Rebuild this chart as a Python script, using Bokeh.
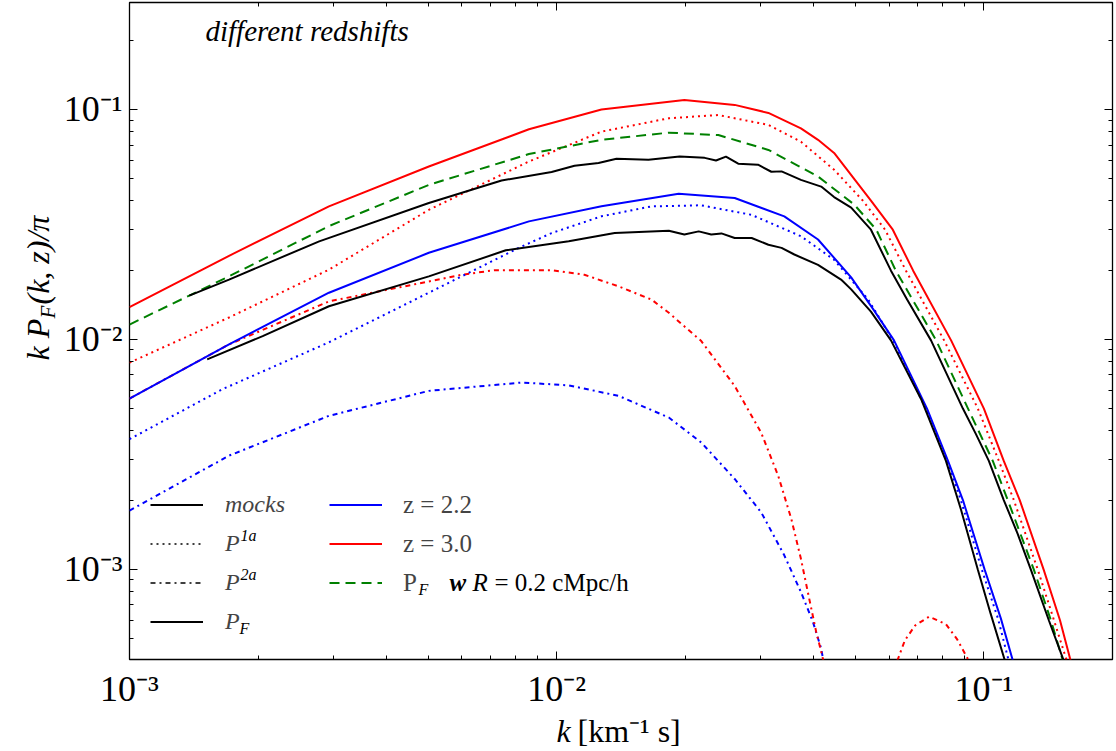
import math
from bokeh.plotting import figure
from bokeh.layouts import column, row
from bokeh.models import (LogAxis, FixedTicker, Label, Legend, LegendItem,
                          CustomJSTickFormatter, Range1d)
from bokeh.embed import file_html
from bokeh.resources import INLINE

# ---------------- data ----------------
# z = 3.0, full P_F (red solid)
k_pf_z30 = [0.001, 0.00171, 0.00293, 0.00502, 0.00861, 0.01273, 0.0199, 0.0261, 0.0313,
            0.0373, 0.0409, 0.0446, 0.0544, 0.0612, 0.0683, 0.0838, 0.1000, 0.1113, 0.1213,
            0.1380, 0.1507, 0.1596]
v_pf_z30 = [0.0138, 0.0231, 0.0379, 0.0565, 0.0820, 0.100, 0.110, 0.1047, 0.0966,
            0.0828, 0.0738, 0.0647, 0.0401, 0.0300, 0.0199, 0.00990, 0.005, 0.00296, 0.002,
            0.000996, 0.0006, 0.0004]

# z = 3.0, P^{1a} (red dotted)
k_p1a_z30 = [0.001, 0.00171, 0.00293, 0.00502, 0.00861, 0.01273, 0.0183, 0.0239, 0.0313,
             0.0373, 0.0446, 0.0521, 0.0587, 0.0657, 0.0807, 0.0968, 0.1084, 0.1175, 0.1337,
             0.1459, 0.1563]
v_p1a_z30 = [0.00792, 0.01245, 0.0201, 0.0366, 0.0594, 0.0801, 0.0916, 0.0946, 0.0857,
             0.0724, 0.0547, 0.0401, 0.0300, 0.0199, 0.00990, 0.005, 0.00296, 0.002, 0.000996,
             0.0006, 0.0004]

# z = 3.0, P^{2a} (red dash-dot), two positive lobes
k_p2a_z30_a = [0.001, 0.00171, 0.00293, 0.00502, 0.0060, 0.00716, 0.00861, 0.00973, 0.01161,
               0.01396, 0.01667, 0.0183, 0.0218, 0.0261, 0.0301, 0.0330, 0.0354, 0.0373,
               0.0390, 0.0405, 0.0416, 0.0421]
v_p2a_z30_a = [0.00553, 0.00951, 0.01463, 0.01786, 0.0191, 0.0200, 0.0200, 0.0200, 0.0191,
               0.0170, 0.0149, 0.01305, 0.00983, 0.00627, 0.00393, 0.00255, 0.00166, 0.00111,
               0.000745, 0.000534, 0.000439, 0.0004]
k_p2a_z30_b = [0.0627, 0.0653, 0.0690, 0.0744, 0.0815, 0.0865, 0.0922]
v_p2a_z30_b = [0.0004, 0.000490, 0.000569, 0.000622, 0.000577, 0.000497, 0.0004]

# z = 3.0, P_F with R = 0.2 cMpc/h (green dashed)
k_pfR_z30 = [0.001, 0.00171, 0.00293, 0.00502, 0.00861, 0.01273, 0.0183, 0.0239, 0.0313,
             0.0409, 0.0497, 0.0560, 0.0622, 0.0773, 0.0918, 0.1049, 0.1137, 0.1309, 0.1435,
             0.1531]
v_pfR_z30 = [0.0116, 0.0188, 0.0311, 0.0470, 0.0640, 0.0738, 0.0793, 0.0774, 0.0667,
             0.0511, 0.0386, 0.0300, 0.0199, 0.00990, 0.005, 0.00296, 0.002, 0.000996, 0.0006,
             0.0004]

# z = 3.0 mocks (black solid)
k_mock_z30 = [0.00138, 0.00171, 0.00278, 0.00502, 0.00743, 0.00973, 0.01101, 0.01253, 0.0138,
              0.0164, 0.0194, 0.0222, 0.0236, 0.0249, 0.0266, 0.0296, 0.0318, 0.0336, 0.0373,
              0.0416, 0.0446, 0.0489, 0.0544, 0.0606, 0.0661, 0.0752, 0.0893, 0.0958, 0.1027,
              0.1113, 0.1199, 0.1288, 0.1419, 0.1538]
v_mock_z30 = [0.0155, 0.0182, 0.0267, 0.0392, 0.0491, 0.0535, 0.0569, 0.0585, 0.0610,
              0.0604, 0.0624, 0.0616, 0.0600, 0.0624, 0.0581, 0.0575, 0.0536, 0.0538, 0.0494,
              0.0462, 0.0416, 0.0374, 0.0300, 0.0199, 0.0149, 0.00990, 0.005, 0.00387, 0.00296,
              0.002, 0.00143, 0.000996, 0.0006, 0.0004]

# z = 2.2, full P_F (blue solid)
k_pf_z22 = [0.001, 0.00171, 0.00293, 0.00502, 0.00861, 0.01273, 0.0193, 0.0261, 0.0341,
            0.0409, 0.0489, 0.0551, 0.0616, 0.0736, 0.0824, 0.0893, 0.1004, 0.1096, 0.1169]
v_pf_z22 = [0.00553, 0.00951, 0.01596, 0.0238, 0.0326, 0.0379, 0.0430, 0.0412, 0.0343,
            0.0272, 0.0186, 0.0135, 0.00990, 0.005, 0.00296, 0.002, 0.000996, 0.000610, 0.0004]

# z = 2.2, P^{1a} (blue dotted)
k_p1a_z22 = [0.001, 0.00165, 0.00293, 0.00502, 0.00815, 0.00973, 0.01273, 0.01667, 0.0218,
             0.0286, 0.0373, 0.0446, 0.0536, 0.0613, 0.0731, 0.0820, 0.0883, 0.0989, 0.1079,
             0.1143]
v_p1a_z22 = [0.00368, 0.00607, 0.00971, 0.01596, 0.0250, 0.0290, 0.0343, 0.0379, 0.0383,
             0.0348, 0.0281, 0.0222, 0.0149, 0.00990, 0.005, 0.00296, 0.002, 0.000996, 0.000610,
             0.0004]

# z = 2.2, P^{2a} (blue dash-dot)
k_p2a_z22 = [0.001, 0.00171, 0.00293, 0.00502, 0.00828, 0.01067, 0.01396, 0.0183, 0.0218,
             0.0261, 0.0301, 0.0341, 0.0373, 0.0398, 0.0416, 0.0421]
v_p2a_z22 = [0.00180, 0.00312, 0.00465, 0.00597, 0.00649, 0.00631, 0.00568, 0.00457, 0.00356,
             0.00247, 0.00177, 0.00115, 0.000796, 0.000590, 0.000452, 0.0004]

# z = 2.2 mocks (black solid)
k_mock_z22 = [0.00152, 0.00205, 0.00293, 0.00502, 0.0076, 0.01067, 0.01367, 0.0183, 0.0199,
              0.0215, 0.0230, 0.0243, 0.0261, 0.0286, 0.0313, 0.0336, 0.0360, 0.0409, 0.0463,
              0.0489, 0.0544, 0.0606, 0.0713, 0.0815, 0.0883, 0.0968, 0.1037, 0.1120]
v_mock_z22 = [0.00819, 0.01033, 0.01393, 0.0188, 0.0244, 0.0267, 0.0290, 0.0297, 0.0286,
              0.0295, 0.0286, 0.0289, 0.0276, 0.0276, 0.0258, 0.0250, 0.0234, 0.0211, 0.0182,
              0.0165, 0.0132, 0.00990, 0.00549, 0.00296, 0.00183, 0.000996, 0.000641, 0.0004]

# axes
x_lim = [1e-3, 0.2]
y_lim = [4.05e-4, 0.292]
x_major = [1e-3, 1e-2, 1e-1]
y_major = [1e-3, 1e-2, 1e-1]
x_minor = [m * 10.0 ** e for e in (-3, -2, -1) for m in range(2, 10)]
y_minor = [m * 10.0 ** e for e in (-4, -3, -2, -1) for m in range(2, 10)]

# legend texts
legend1_labels = ["mocks", "P", "P", "P"]
legend2_labels = ["z = 2.2", "z = 3.0", "P"]

# ---------------- styles ----------------
FONT = "Liberation Serif"
RED, BLUE, GREEN, BLACK = "#ff0000", "#0000ff", "#008000", "#000000"
DOT = "2 4"
DASHDOT = "5 4 2 4"
DASH = "10 6"
LW = 2
NAN = float("nan")

YLAB_W = 60
MAIN_W, MAIN_H = 1116 - YLAB_W, 711
XLAB_H = 751 - MAIN_H

p = figure(width=MAIN_W, height=MAIN_H, x_axis_type="log", y_axis_type="log",
           x_range=Range1d(*x_lim), y_range=Range1d(*y_lim),
           output_backend="svg", toolbar_location=None,
           min_border_left=127 - YLAB_W, min_border_right=4, min_border_top=2,
           min_border_bottom=50)
p.xgrid.visible = False
p.ygrid.visible = False
p.outline_line_color = "black"
p.outline_line_width = 1.3
p.background_fill_color = "white"
p.border_fill_color = "white"

sup_code = """
const m = {"-": "\u207b", "0": "\u2070", "1": "\u00b9", "2": "\u00b2", "3": "\u00b3",
           "4": "\u2074", "5": "\u2075", "6": "\u2076", "7": "\u2077", "8": "\u2078", "9": "\u2079"};
const e = Math.round(Math.log10(tick));
return "10" + String(e).split("").map(c => m[c]).join("");
"""


def style_axis(ax, major, minor, labels):
    ax.ticker = FixedTicker(ticks=major, minor_ticks=minor)
    ax.axis_line_color = None
    ax.major_tick_in = 8
    ax.major_tick_out = 0
    ax.minor_tick_in = 4
    ax.minor_tick_out = 0
    ax.major_tick_line_color = "black"
    ax.minor_tick_line_color = "black"
    ax.major_tick_line_width = 1
    ax.minor_tick_line_width = 1
    if labels:
        ax.formatter = CustomJSTickFormatter(code=sup_code)
        ax.major_label_text_font = FONT
        ax.major_label_text_font_size = "36px"
        ax.major_label_text_color = "black"
    else:
        ax.formatter = CustomJSTickFormatter(code="return '';")
        ax.major_label_standoff = 0
        ax.major_label_text_font_size = "1px"


style_axis(p.xaxis[0], x_major, x_minor, True)
style_axis(p.yaxis[0], y_major, y_minor, True)
p.xaxis[0].major_label_standoff = 9
p.yaxis[0].major_label_standoff = 7

top_ax = LogAxis()
right_ax = LogAxis()
style_axis(top_ax, x_major, x_minor, False)
style_axis(right_ax, y_major, y_minor, False)
p.add_layout(top_ax, "above")
p.add_layout(right_ax, "right")

# ---------------- curves ----------------
p.line(k_p2a_z22, v_p2a_z22, line_color=BLUE, line_width=LW, line_dash=DASHDOT)
p.line(k_p2a_z30_a, v_p2a_z30_a, line_color=RED, line_width=LW, line_dash=DASHDOT)
p.line(k_p2a_z30_b, v_p2a_z30_b, line_color=RED, line_width=LW, line_dash=DASHDOT)
p.line(k_p1a_z22, v_p1a_z22, line_color=BLUE, line_width=LW, line_dash=DOT)
p.line(k_p1a_z30, v_p1a_z30, line_color=RED, line_width=LW, line_dash=DOT)
r_z22 = p.line(k_pf_z22, v_pf_z22, line_color=BLUE, line_width=LW)
r_z30 = p.line(k_pf_z30, v_pf_z30, line_color=RED, line_width=LW)
r_R = p.line(k_pfR_z30, v_pfR_z30, line_color=GREEN, line_width=LW, line_dash=DASH)
r_mock = p.line(k_mock_z30, v_mock_z30, line_color=BLACK, line_width=LW)
p.line(k_mock_z22, v_mock_z22, line_color=BLACK, line_width=LW)

# legend-only style samples (a single NaN point, nothing drawn in the plot)
r_dot = p.line([NAN], [NAN], line_color=BLACK, line_width=1.5, line_dash=DOT)
r_dd = p.line([NAN], [NAN], line_color=BLACK, line_width=1.5, line_dash=DASHDOT)
r_sol = p.line([NAN], [NAN], line_color=BLACK, line_width=LW)

common = dict(padding=0, spacing=8, glyph_width=53, glyph_height=31, label_height=31,
              margin=0, border_line_color=None, background_fill_alpha=0,
              label_text_font=FONT, orientation="vertical")
leg1 = Legend(items=[LegendItem(label=legend1_labels[0], renderers=[r_mock]),
                     LegendItem(label=legend1_labels[1], renderers=[r_dot]),
                     LegendItem(label=legend1_labels[2], renderers=[r_dd]),
                     LegendItem(label=legend1_labels[3], renderers=[r_sol])],
              location=(21, 22), label_standoff=22, label_text_font_style="italic",
              label_text_font_size="24px", **common)
leg2 = Legend(items=[LegendItem(label=legend2_labels[0], renderers=[r_z22]),
                     LegendItem(label=legend2_labels[1], renderers=[r_z30]),
                     LegendItem(label=legend2_labels[2], renderers=[r_R])],
              location=(200, 61), label_standoff=21, label_text_font_size="25px", **common)
p.add_layout(leg1)
p.add_layout(leg2)


def lab(fig, text, x, y, size, style="normal", angle=0.0, baseline="middle", align="left"):
    fig.add_layout(Label(x=x, y=y, x_units="screen", y_units="screen", text=text,
                         text_font=FONT, text_font_size=size, text_font_style=style,
                         text_color="black", angle=angle, text_baseline=baseline,
                         text_align=align))


# legend super/subscripts and rest of the long label
lab(p, "1a", 111, 124, "16px", "italic")
lab(p, "2a", 111, 85, "16px", "italic")
lab(p, "F", 110, 31, "16px", "italic")
lab(p, "F", 289, 70, "16px", "italic")
lab(p, "w", 320, 77, "25px", "bold italic")
lab(p, "R", 343, 77, "25px", "italic")
lab(p, "= 0.2 cMpc/h", 365, 77, "25px")

# title
lab(p, "different redshifts", 76, 629, "29px", "italic")


def text_fig(w, h):
    f = figure(width=w, height=h, x_range=Range1d(0, 1), y_range=Range1d(0, 1),
               x_axis_location=None, y_axis_location=None, min_border=0,
               output_backend="svg", toolbar_location=None)
    f.grid.visible = False
    f.outline_line_color = None
    f.background_fill_color = "white"
    f.border_fill_color = "white"
    return f


# y-axis label (rotated): k P_F(k, z)/pi
ylab = text_fig(YLAB_W, MAIN_H)
half_pi = math.pi / 2
lab(ylab, "k P", 37, 299, "32px", "italic", angle=half_pi)
lab(ylab, "F", 47, 341, "21px", "italic", angle=half_pi)
lab(ylab, "(k, z)/\u03c0", 37, 355, "32px", "italic", angle=half_pi)

# x-axis label: k [km^-1 s]
xlab = text_fig(1116, XLAB_H)
lab(xlab, "k", 556, 21, "32px", "italic")
lab(xlab, "[km\u207b\u00b9 s]", 577, 21, "32px")

layout = column(row(ylab, p), xlab)
open("out.html", "w").write(file_html(layout, INLINE))
